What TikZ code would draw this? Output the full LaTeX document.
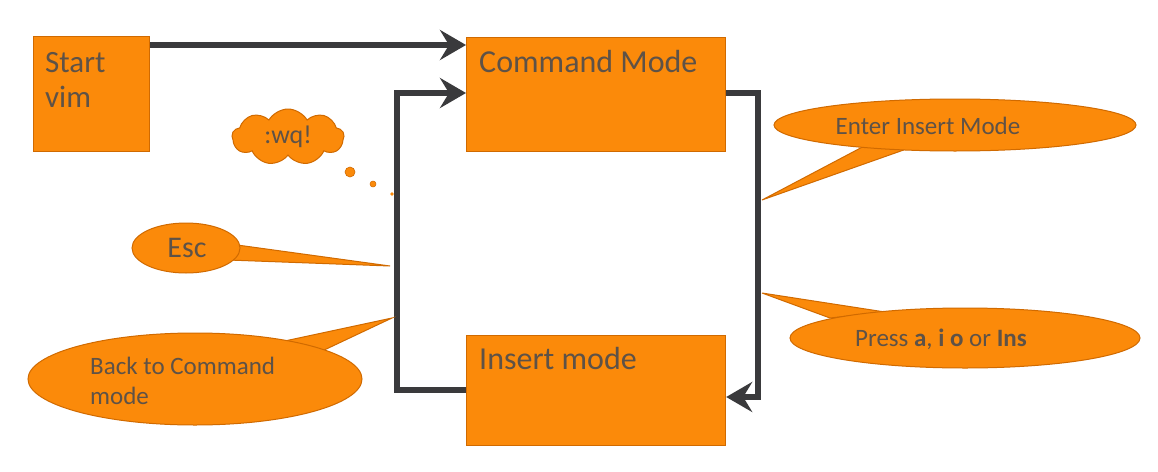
\documentclass[tikz,border=0pt]{standalone}
\usepackage{fontspec}
\setmainfont{Carlito}
\usetikzlibrary{shapes.geometric,shapes.symbols,arrows.meta,shadows}
\definecolor{org}{HTML}{FB8A0A}
\definecolor{orgdark}{HTML}{D06A00}
\definecolor{txt}{HTML}{5E5247}
\definecolor{conn}{HTML}{3A3A3C}
\tikzset{
  box/.style={draw=orgdark, line width=1.2pt, fill=org, anchor=north west, inner sep=0pt},
  boxtext/.style={text=txt, anchor=north west, inner sep=0pt, align=left},
  bubble/.style={ellipse, draw=orgdark, line width=1pt, fill=org, text=txt, inner sep=0pt},
  tail/.style={draw=orgdark, line width=1pt, fill=org, line join=miter},
  conline/.style={draw=conn, line width=6pt, line join=miter},
  conarrow/.style={conline, -{Stealth[length=26pt, width=30pt, inset=9pt]}},
}
\begin{document}
\begin{tikzpicture}[x=1pt,y=-1pt]
\useasboundingbox (0,0) rectangle (1158,471);
\fill[white] (0,0) rectangle (1158,471);

% boxes
\node[box, minimum width=116pt, minimum height=115pt] (start) at (33,36) {};
\node[box, minimum width=259pt, minimum height=114pt] (cmd) at (466,37) {};
\node[box, minimum width=259pt, minimum height=110pt] (ins) at (466,335) {};
\node[boxtext, font=\fontsize{31}{35}\selectfont] (starttxt) at (45,52) {Start\\vim};
\node[boxtext, font=\fontsize{32}{35}\selectfont] (cmdtxt) at (479,50) {Command Mode};
\node[boxtext, font=\fontsize{32}{35}\selectfont] (instxt) at (479,347) {Insert mode};

% connectors
\coordinate (tl) at (397,93);
\coordinate (bl) at (397,390);
\coordinate (tr) at (758,93);
\coordinate (br) at (758,397);
\draw[conarrow] (start.east |- 0,45) -- (cmd.west |- 0,45);
\draw[conarrow] (ins.west |- bl) -- (bl) -- (tl) -- (cmd.west |- tl);
\draw[conarrow] (cmd.east |- tr) -- (tr) -- (br) -- (ins.east |- br);

% callout tips
\coordinate (tipEnter) at (762,200);
\coordinate (tipPress) at (762,293);
\coordinate (tipEsc) at (390,266);
\coordinate (tipBack) at (392,318);

% Enter Insert Mode
\draw[tail] (870,143) -- (tipEnter) -- (915,146) -- cycle;
\node[bubble, minimum width=362pt, minimum height=52pt] (enter) at (955,125) {};
\node[text=txt, font=\fontsize{25}{28}\selectfont] (entertxt) at (928,126) {Enter Insert Mode};

% Press
\draw[tail] (830,318) -- (tipPress) -- (885,312) -- cycle;
\node[bubble, minimum width=350pt, minimum height=60pt] (press) at (965,338) {};
\node[text=txt, font=\fontsize{25}{28}\selectfont] (presstxt) at (941,339) {Press \textbf{a}, \textbf{i o} or \textbf{Ins}};

% Esc
\draw[tail] (230,244) -- (tipEsc) -- (228,260) -- cycle;
\node[bubble, minimum width=108pt, minimum height=50pt] (esc) at (186,248) {};
\node[text=txt, font=\fontsize{30}{33}\selectfont] (esctxt) at (187,248) {Esc};

% Back to Command mode
\draw[tail] (280,342) -- (tipBack) -- (320,352) -- cycle;
\node[bubble, minimum width=334pt, minimum height=92pt] (back) at (195,379) {};
\node[boxtext, font=\fontsize{25}{30}\selectfont] (backtxt) at (90,357) {Back to Command\\mode};

% thought cloud
\node[cloud, cloud puffs=9, cloud puff arc=120, aspect=2, draw=orgdark, line width=1pt, fill=org,
      minimum width=112pt, minimum height=56pt, text=txt, font=\fontsize{26}{28}\selectfont] (wq) at (288,137) {:wq!};
\fill[org, draw=orgdark, line width=0.6pt] (350,172) circle (5);
\fill[org, draw=orgdark, line width=0.5pt] (373,184) circle (3);
\fill[org] (392,194) circle (1.8);
\end{tikzpicture}
\end{document}
